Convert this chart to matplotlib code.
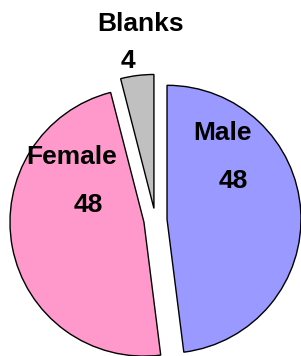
import matplotlib.pyplot as plt

labels = ["Male", "Female", "Blanks"]
values = [48, 48, 4]
colors = ["#9999ff", "#ff99cc", "#c0c0c0"]

# label / value text positions (data units, pie radius = 1)
name_pos = [(0.504, 0.649), (-0.627, 0.470), (-0.107, 1.463)]
value_pos = [(0.579, 0.291), (-0.503, 0.112), (-0.205, 1.187)]

plt.rcParams["font.family"] = ["Liberation Sans", "DejaVu Sans"]

fig = plt.figure(figsize=(3.01, 3.56), dpi=100)
ax = fig.add_axes([0, 0, 1, 1])

ax.pie(
    values,
    colors=colors,
    startangle=90,
    counterclock=False,
    explode=[0.087] * 3,
    radius=1,
    wedgeprops=dict(edgecolor="black", linewidth=1.0),
)

for name, val, (nx, ny), (vx, vy) in zip(labels, values, name_pos, value_pos):
    ax.text(nx, ny, name, ha="center", va="center", fontsize=19, fontweight="bold")
    ax.text(vx, vy, str(val), ha="center", va="center", fontsize=19, fontweight="bold")

ax.set_aspect("equal")
ax.set_xlim(-1.160, 1.087)
ax.set_ylim(-1.015, 1.642)
ax.axis("off")

fig.savefig("out.png", dpi=100)
